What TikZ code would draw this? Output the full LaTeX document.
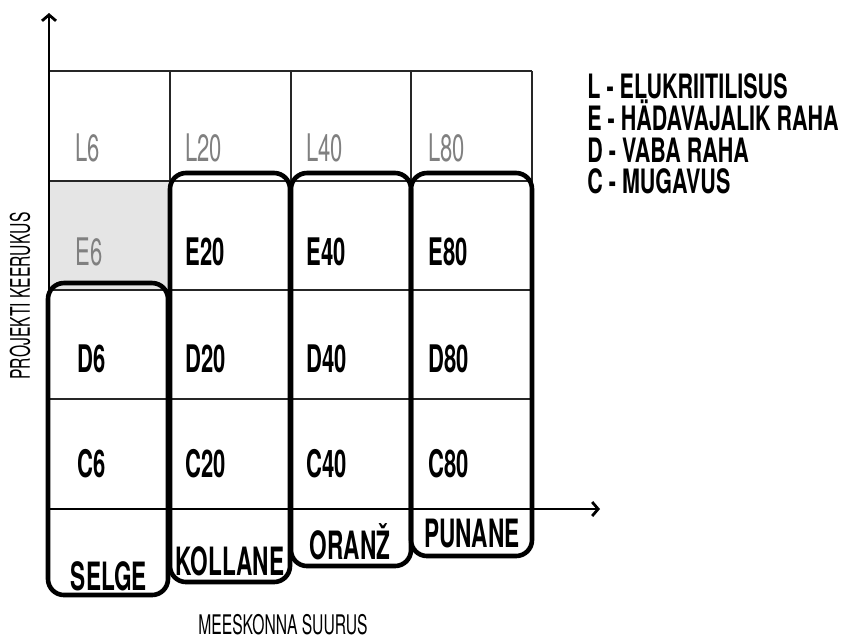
\documentclass[tikz,border=0pt]{standalone}
\usepackage{fontspec}
\setmainfont{TeX Gyre Heros}[FakeStretch=0.58]
\newfontfamily\keyfont{TeX Gyre Heros}[FakeStretch=0.64]
\usetikzlibrary{arrows.meta}
\tikzset{
	gridline/.style={line width=0.7pt,black!85},
	axis/.style={line width=1.4pt,-{Straight Barb[length=3pt,width=7pt]}},
	group/.style={line width=2.3pt,rounded corners=8pt},
	lite/.style={inner sep=0pt,anchor=west,text=black!50,font=\fontsize{19}{19}\selectfont},
	cell/.style={inner sep=0pt,anchor=west,font=\fontsize{19}{19}\selectfont\bfseries},
	team/.style={inner sep=0pt,font=\fontsize{19.5}{19.5}\selectfont\bfseries},
	key/.style={inner sep=0pt,anchor=base west,font=\keyfont\fontsize{16.8}{16.8}\selectfont\bfseries},
	axislabel/.style={inner sep=0pt,font=\fontsize{13.5}{13.5}\selectfont},
}
\begin{document}
\begin{tikzpicture}[x=0.5pt,y=-0.5pt]
	\useasboundingbox (0,0) rectangle (845,639);
	\coordinate (O) at (49,509);
	\coordinate (Ytip) at (49,13);
	\coordinate (Xtip) at (600,509);
	% shaded cell E6
	\fill [black!10] (49,181) rectangle (170,290);
	% table lines
	\foreach \x in {49,170,291,411,532}
		\draw [gridline] (\x,71) -- (\x,509);
	\foreach \y in {71,181,290,399}
		\draw [gridline] (49,\y) -- (532,\y);
	\draw [axis] (O) -- (Xtip);
	\draw [axis] (O) -- (Ytip);
	% team columns
	\draw [group] (48,283) rectangle (168,595);
	\draw [group] (170,173) rectangle (290,582);
	\draw [group] (291,173) rectangle (411,566);
	\draw [group] (411,173) rectangle (532,556);
	% cell labels
	\foreach \n/\x in {6/75,20/185,40/306,80/428}
		\node [lite] (L\n) at (\x,148) {L\n};
	\node [lite] (E6) at (75,252) {E6};
	\foreach \n/\x in {20/185,40/306,80/428}
		\node [cell] (E\n) at (\x,252) {E\n};
	\foreach \n/\x in {6/77,20/185,40/306,80/428}{
		\node [cell] (D\n) at (\x,359) {D\n};
		\node [cell] (C\n) at (\x,464) {C\n};
	}
	\node [team] (selge) at (109,576) {SELGE};
	\node [team] (kollane) at (230,561) {KOLLANE};
	\node [team] (oranz) at (350,542) {ORANŽ};
	\node [team] (punane) at (472,534) {PUNANE};
	% legend, on baselines
	\node [key] (keyL) at (587,98) {L - ELUKRIITILISUS};
	\node [key] (keyE) at (587,130) {E - HÄDAVAJALIK RAHA};
	\node [key] (keyD) at (587,162) {D - VABA RAHA};
	\node [key] (keyC) at (587,193) {C - MUGAVUS};
	% axis names
	\node [axislabel,rotate=90] (ylabel) at (20,296) {PROJEKTI KEERUKUS};
	\node [axislabel] (xlabel) at (283,625) {MEESKONNA SUURUS};
\end{tikzpicture}
\end{document}
